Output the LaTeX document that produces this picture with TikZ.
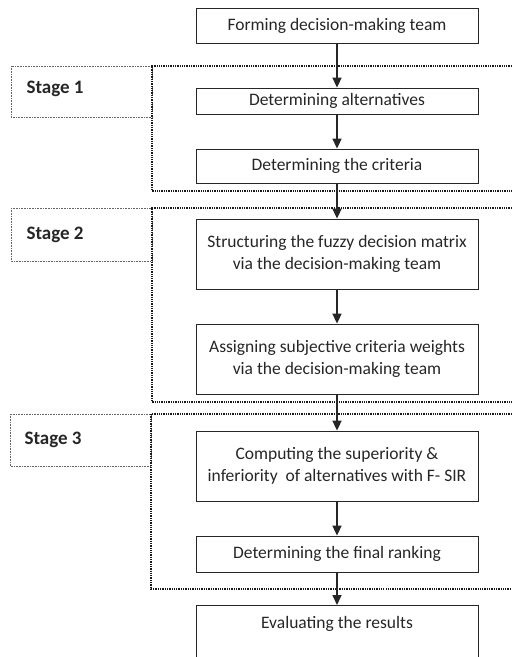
\documentclass[tikz,border=0pt]{standalone}
\usepackage{fontspec}
\setmainfont{Carlito}
\usetikzlibrary{arrows.meta,positioning}
\begin{document}
\begin{tikzpicture}[x=1pt,y=-1pt,
  box/.style={draw=black!85, line width=0.8pt, minimum width=282pt, align=center,
    font=\fontsize{17.5}{22}\selectfont, text=black!85},
  flow/.style={-{Triangle[length=10pt,width=9pt]}, line width=1.6pt, draw=black!85},
  stageline/.style={draw=black!90, dash pattern=on 1.3pt off 1pt, line width=1.3pt},
  labelline/.style={draw=black!60, dash pattern=on 0.8pt off 0.8pt, line width=0.7pt},
  stagelabel/.style={anchor=west, font=\bfseries\fontsize{19}{21}\selectfont, text=black!85}]
  \useasboundingbox (0,0) rectangle (512,657);

  \node[box, minimum height=35pt] (form) at (337,25.5) {Forming decision-making team};
  \node[box, minimum height=26pt] (alter) at (337,101) {Determining alternatives};
  \node[box, minimum height=34pt] (crit) at (337,166) {Determining the criteria};
  \node[box, minimum height=70pt] (struct) at (337,254) {Structuring the fuzzy decision matrix\\via the decision-making team};
  \node[box, minimum height=70pt] (assign) at (337,359) {Assigning subjective criteria weights\\via the decision-making team};
  \node[box, minimum height=70pt] (comp) at (337,466) {Computing the superiority \&\\inferiority\ \ of alternatives with F- SIR};
  \node[box, minimum height=36pt] (rank) at (337,554) {Determining the final ranking};
  \node[box, anchor=north, inner ysep=11pt, text depth=60pt] (eval) at (337,605) {Evaluating the results};

  \draw[labelline] (11,66) rectangle (152,117);
  \draw[stageline] (512,66) -- (152,66) -- (152,191) -- (512,191);
  \node[stagelabel] (stage1) at (23,89) {Stage 1};

  \draw[labelline] (11,208) rectangle (152,261);
  \draw[stageline] (512,208) -- (152,208) -- (152,402) -- (512,402);
  \node[stagelabel] (stage2) at (23,235) {Stage 2};

  \draw[labelline] (10,414) rectangle (151,466);
  \draw[stageline] (512,414) -- (151,414) -- (151,589) -- (512,589);
  \node[stagelabel] (stage3) at (21,440) {Stage 3};

  \draw[flow] (form) -- (alter);
  \draw[flow] (alter) -- (crit);
  \draw[flow] (crit) -- (struct);
  \draw[flow] (struct) -- (assign);
  \draw[flow] (assign) -- (comp);
  \draw[flow] (comp) -- (rank);
  \draw[flow] (rank) -- (eval);
\end{tikzpicture}
\end{document}
